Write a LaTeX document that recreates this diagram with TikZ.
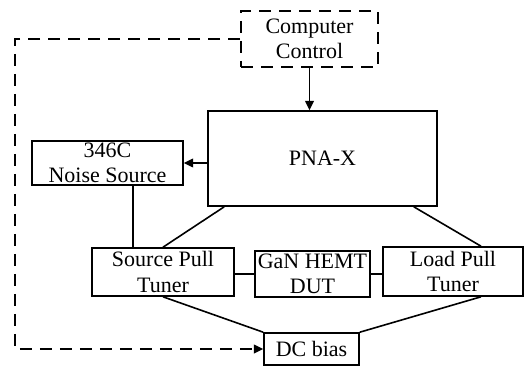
\documentclass[tikz,border=0pt]{standalone}
\usepackage{fontspec}
\setmainfont{Liberation Serif}
\usetikzlibrary{arrows.meta, positioning}
\tikzset{
  blk/.style={
    draw=black,
    line width=1.2pt,
    align=center,
    inner sep=0pt,
    font=\fontsize{16.5}{19}\selectfont
  },
  dashblk/.style={
    blk,
    dash pattern=on 9pt off 6pt
  },
  wire/.style={
    line width=1.2pt,
    draw=black
  },
  arrow/.style={
    wire,
    -{Triangle[length=7pt,width=6.5pt]}
  },
  dasharrow/.style={
    arrow,
    dash pattern=on 9pt off 6pt
  }
}
\begin{document}
\begin{tikzpicture}[x=0.75pt, y=-0.75pt]
\useasboundingbox (0,0) rectangle (532,367);

\node[dashblk, minimum width=102.75pt, minimum height=42pt] (ctrl) at (309.5,39) {Computer\\Control};

\node[blk, minimum width=171.75pt, minimum height=71.25pt] (pna) at (322.5,158.5) {PNA-X};

\node[blk, minimum width=113.25pt, minimum height=33pt] (noise) at (107.5,163) {346C\\Noise Source};

\node[blk, minimum width=106.5pt, minimum height=36pt] (src) at (163,272) {Source Pull\\Tuner};

\node[blk, minimum width=86.25pt, minimum height=34.5pt] (dut) at (312.5,274) {GaN HEMT\\DUT};

\node[blk, minimum width=105pt, minimum height=36.75pt] (load) at (453,271.5) {Load Pull\\Tuner};

\node[blk, minimum width=71.25pt, minimum height=24pt] (dc) at (311.5,349) {DC bias};

\coordinate (lft) at (15,200);

\draw[arrow] (ctrl.south) -- (ctrl.south |- pna.north);
\draw[arrow] (pna.west |- noise.east) -- (noise.east);
\draw[wire] ([xshift=19pt]noise.south) -- ([xshift=19pt]noise.south |- src.north);
\draw[wire] ([xshift=12.75pt]pna.south west) -- (src.north);
\draw[wire] ([xshift=-18pt]pna.south east) -- ([xshift=21pt]load.north);
\draw[wire] (src.east |- dut.west) -- (dut.west);
\draw[wire] (dut.east) -- (dut.east -| load.west);
\draw[wire] (src.south) -- (dc.north west);
\draw[wire] ([xshift=21pt]load.south) -- (dc.north east);
\draw[dasharrow] (ctrl.west) -| (lft) |- (dc.west);

\end{tikzpicture}
\end{document}
